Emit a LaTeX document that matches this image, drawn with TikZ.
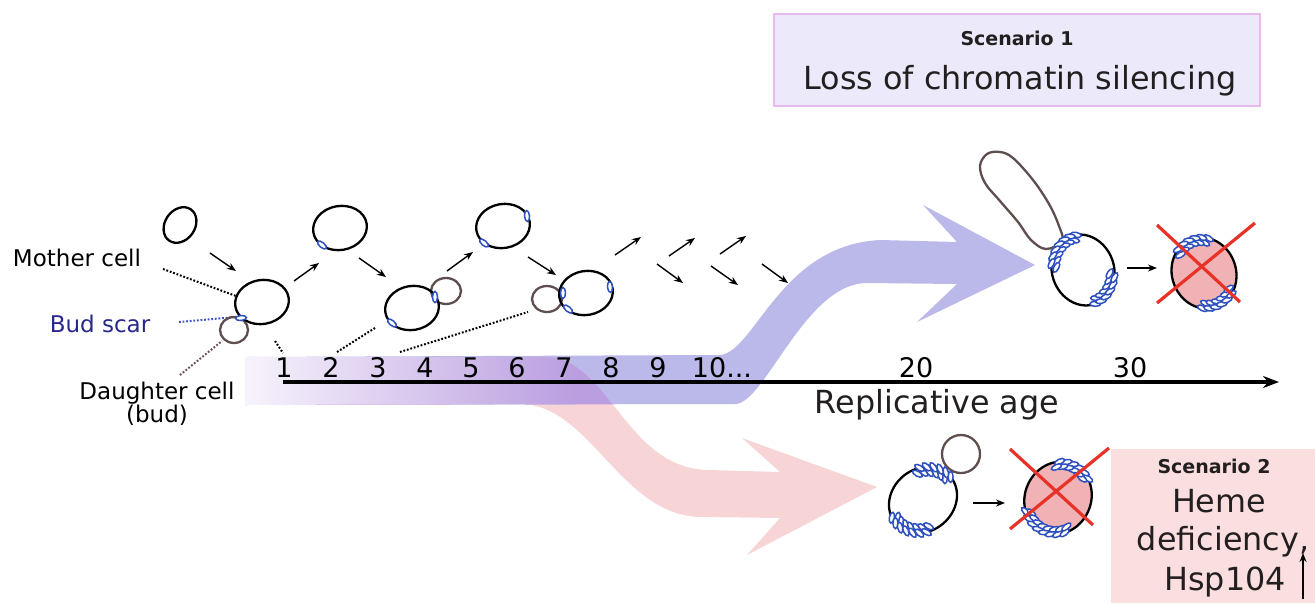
\documentclass[tikz,border=0pt]{standalone}
\usepackage{fontspec}
\setmainfont{DejaVu Sans}
\usetikzlibrary{arrows.meta}

\definecolor{ink}{RGB}{35,31,32}
\definecolor{bandblue}{RGB}{186,185,233}
\definecolor{bandpink}{RGB}{247,213,215}
\definecolor{bandmix}{RGB}{186,158,224}
\definecolor{bandfade}{RGB}{247,243,252}
\definecolor{budbrown}{RGB}{95,78,78}
\definecolor{scarblue}{RGB}{45,80,190}
\definecolor{scartext}{RGB}{40,40,140}
\definecolor{dotblue}{RGB}{60,80,200}
\definecolor{dotbrown}{RGB}{110,80,80}
\definecolor{deadfill}{RGB}{240,178,180}
\definecolor{crossred}{RGB}{232,50,40}
\definecolor{boxonefill}{RGB}{236,234,250}
\definecolor{boxoneline}{RGB}{232,186,238}
\definecolor{boxtwofill}{RGB}{251,222,224}

% outlines of the two broad arrows
\def\blueribbon{(245,357) -- (720,355) .. controls (755,352) and (780,245) .. (880,240) -- (957,242) -- (923,205) -- (1035,265) -- (917,322) -- (957,284) -- (867,283) .. controls (805,283) and (765,404) .. (735,404) -- (245,405) -- cycle}
\def\pinkribbon{(245,357) -- (545,357) .. controls (610,357) and (625,470) .. (710,470) -- (780,472) -- (742,438) -- (877,487) -- (747,555) -- (780,518) -- (700,517) .. controls (620,515) and (590,404) .. (520,404) -- (245,405) -- cycle}

\tikzset{
  cellline/.style={draw=black, line width=2.3},
  budline/.style={draw=budbrown, line width=2.3},
  deadcell/.style={draw=black, fill=deadfill, line width=2.3},
  scar/.pic={\draw[scarblue, line width=1.5, fill=white] (0,0) ellipse (5.5pt and 2.5pt);},
  arr/.style={-{Stealth[length=9pt,width=7pt]}, line width=1.4, black},
  dotblack/.style={black, line width=2, dash pattern=on 1.8pt off 1.8pt},
  dotscar/.style={dotblue, line width=2, dash pattern=on 1.8pt off 1.8pt},
  dotbud/.style={dotbrown, line width=2, dash pattern=on 1.8pt off 1.8pt},
  crossline/.style={crossred, line width=3.2},
  bigtxt/.style={font=\fontsize{31.8}{38}\selectfont, text=ink, inner sep=0pt, anchor=base},
  numtxt/.style={font=\fontsize{27}{32}\selectfont, text=black, inner sep=0pt, anchor=base},
  midtxt/.style={font=\fontsize{23}{28}\selectfont, text=black, inner sep=0pt, anchor=base},
  headtxt/.style={font=\bfseries\fontsize{19}{23}\selectfont, text=ink, inner sep=0pt, anchor=base},
}

\begin{document}
\begin{tikzpicture}[x=1pt, y=-1pt]
\useasboundingbox (0,0) rectangle (1315,603);

% ---- broad arrows ----
\fill[bandblue] \blueribbon;
\fill[bandpink] \pinkribbon;
\begin{scope}
  \clip \pinkribbon;
  \fill[bandmix] \blueribbon;
\end{scope}
\begin{scope}
  \clip \pinkribbon;
  \clip \blueribbon;
  \shade[left color=bandfade, right color=bandmix] (245,350) rectangle (575,410);
\end{scope}

% ---- scenario boxes ----
\draw[fill=boxonefill, draw=boxoneline, line width=1.5] (774,14) rectangle (1260,106);
\node[headtxt] (s1head) at (1017,45) {Scenario 1};
\node[bigtxt] (s1body) at (1020,89) {Loss of chromatin silencing};

\fill[boxtwofill] (1111,449) rectangle (1315,603);
\node[headtxt] (s2head) at (1214,473) {Scenario 2};
\node[bigtxt] (s2l1) at (1219,512) {Heme};
\node[bigtxt] (s2l2) at (1223,550) {deficiency,};
\node[bigtxt] (s2l3) at (1225,590) {Hsp104};
\coordinate (upa) at (1303,599);
\coordinate (upb) at (1303,553);
\draw[arr] (upa) -- (upb);

% ---- age axis ----
\coordinate (axstart) at (283,382);
\coordinate (axend) at (1279,382);
\draw[line width=4, -{Stealth[length=16pt,width=12pt]}] (axstart) -- (axend);
\foreach \n/\x in {1/284,2/331,3/378,4/425,5/471,6/517,7/564,8/611,9/658}
  \node[numtxt] (n\n) at (\x,377) {\n};
\node[numtxt] (n10) at (722,377) {10...};
\node[numtxt] (n20) at (916,377) {20};
\node[numtxt] (n30) at (1130,377) {30};
\node[bigtxt] (age) at (937,413) {Replicative age};

% ---- left labels ----
\node[midtxt] (lmother) at (77,266) {Mother cell};
\node[midtxt, text=scartext] (lscar) at (100,332) {Bud scar};
\node[midtxt] (ldaughter) at (157,399) {Daughter cell};
\node[midtxt] (lbud) at (157,422) {(bud)};

\coordinate (m1) at (163,269); \coordinate (m2) at (236,296);
\coordinate (b1) at (179,322); \coordinate (b2) at (236,317);
\coordinate (d1) at (180,375); \coordinate (d2) at (222,341);
\coordinate (g1a) at (275,341); \coordinate (g1b) at (283,353);
\coordinate (g2a) at (337,352); \coordinate (g2b) at (375,328);
\coordinate (g3a) at (400,352); \coordinate (g3b) at (528,312);
\draw[dotblack] (m1) -- (m2);
\draw[dotscar] (b1) -- (b2);
\draw[dotbud] (d1) -- (d2);
\draw[dotblack] (g1a) -- (g1b);
\draw[dotblack] (g2a) -- (g2b);
\draw[dotblack] (g3a) -- (g3b);

% ---- young mother through successive divisions ----
\draw[cellline, rotate around={-35:(180,225)}] (180,225) ellipse (15pt and 19pt);

\draw[budline] (234,330) ellipse (14pt and 13pt);
\draw[cellline, rotate around={10:(262,302)}] (262,302) ellipse (27pt and 22pt);
\pic[rotate=5] at (241,318) {scar};

\draw[cellline, rotate around={10:(340,228)}] (340,228) ellipse (27pt and 22pt);
\pic[rotate=-40] at (322,245) {scar};

\draw[budline] (446,291) ellipse (15pt and 13pt);
\draw[cellline, rotate around={10:(412,308)}] (412,308) ellipse (27pt and 22pt);
\pic[rotate=-40] at (392,323) {scar};
\pic[rotate=90] at (435,297) {scar};

\draw[cellline, rotate around={10:(503,226)}] (503,226) ellipse (27pt and 22pt);
\pic[rotate=-40] at (484,243) {scar};
\pic[rotate=95] at (527,216) {scar};

\draw[budline] (547,299) ellipse (15pt and 13pt);
\draw[cellline, rotate around={10:(586,293)}] (586,293) ellipse (27pt and 22pt);
\pic[rotate=90] at (563,293) {scar};
\pic[rotate=-40] at (568,309) {scar};
\pic[rotate=95] at (610,287) {scar};

% division arrows
\foreach \i/\ax/\ay/\bx/\by in {1/210/253/236/271, 2/294/281/319/263, 3/359/258/386/277,
    4/447/271/473/252, 5/528/257/556/275, 6/615/255/641/237, 7/669/256/695/238,
    8/720/254/746/236, 9/657/264/683/283, 10/711/266/738/285, 11/762/264/788/283}{
  \coordinate (ga\i) at (\ax,\ay);
  \coordinate (gb\i) at (\bx,\by);
  \draw[arr] (ga\i) -- (gb\i);
}

% ---- scenario 1: old mother and its death ----
\draw[budline] plot[smooth cycle, tension=0.6] coordinates {(1000,152) (1013,158) (1033,180) (1049,204) (1059,226) (1062,241) (1046,249) (1031,240) (1018,222) (1000,201) (985,183) (980,166) (987,154)};
\begin{scope}[shift={(1083,270)}, rotate=20]
  \draw[cellline] (0,0) ellipse (31pt and 36pt);
  \foreach \t [evaluate=\t as \r using \t+90] in {80,92,...,152,-90,-78,...,-24} {
    \pic[rotate=\r] at ({31*cos(\t)},{-36*sin(\t)}) {scar};
    \pic[rotate=\r] at ({26*cos(\t+6)},{-31*sin(\t+6)}) {scar};
  }
\end{scope}
\coordinate (o1a) at (1127,268); \coordinate (o1b) at (1157,268);
\draw[arr] (o1a) -- (o1b);
\begin{scope}[shift={(1204,273)}, rotate=20]
  \draw[deadcell] (0,0) ellipse (32pt and 36pt);
  \foreach \t [evaluate=\t as \r using \t+90] in {60,72,...,120,-115,-103,...,-45} {
    \pic[rotate=\r] at ({32*cos(\t)},{-36*sin(\t)}) {scar};
    \pic[rotate=\r] at ({27*cos(\t+6)},{-31*sin(\t+6)}) {scar};
  }
\end{scope}
\coordinate (x1a) at (1157,225); \coordinate (x1b) at (1240,302);
\coordinate (x1c) at (1255,223); \coordinate (x1d) at (1157,303);
\draw[crossline] (x1a) -- (x1b);
\draw[crossline] (x1c) -- (x1d);

% ---- scenario 2: mother and its death ----
\draw[budline] (961,454) circle (19pt);
\begin{scope}[shift={(923,500)}, rotate=40]
  \draw[cellline] (0,0) ellipse (36pt and 31pt);
  \foreach \t [evaluate=\t as \r using \t+90] in {0,12,...,60,168,180,...,240} {
    \pic[rotate=\r] at ({36*cos(\t)},{-31*sin(\t)}) {scar};
    \pic[rotate=\r] at ({31*cos(\t+6)},{-26*sin(\t+6)}) {scar};
  }
\end{scope}
\coordinate (o2a) at (973,503); \coordinate (o2b) at (1005,503);
\draw[arr] (o2a) -- (o2b);
\begin{scope}[shift={(1058,498)}, rotate=-25]
  \draw[deadcell] (0,0) ellipse (33pt and 37pt);
  \foreach \t [evaluate=\t as \r using \t+90] in {55,67,...,125,225,237,...,315} {
    \pic[rotate=\r] at ({33*cos(\t)},{-37*sin(\t)}) {scar};
    \pic[rotate=\r] at ({28*cos(\t+6)},{-32*sin(\t+6)}) {scar};
  }
\end{scope}
\coordinate (x2a) at (1010,449); \coordinate (x2b) at (1093,525);
\coordinate (x2c) at (1109,448); \coordinate (x2d) at (1010,529);
\draw[crossline] (x2a) -- (x2b);
\draw[crossline] (x2c) -- (x2d);
\end{tikzpicture}
\end{document}
